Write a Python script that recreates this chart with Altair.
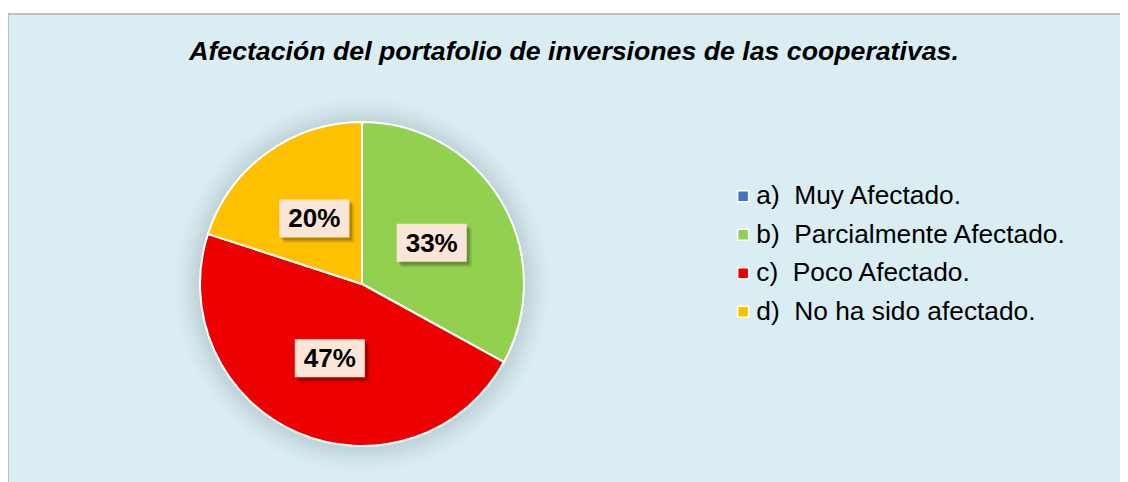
import altair as alt
import pandas as pd

categories = [
    "a)\u00a0\u00a0Muy Afectado.",
    "b)\u00a0\u00a0Parcialmente Afectado.",
    "c)\u00a0\u00a0Poco Afectado.",
    "d)\u00a0\u00a0No ha sido afectado.",
]
values = [0, 33, 47, 20]
colors = ["#4472C4", "#92D050", "#EC0000", "#FFC000"]
title_text = "Afectación del portafolio de inversiones de las cooperativas."

W, H = 1112, 468
CX, CY, R = 354, 270, 162
FONT = "Liberation Sans"

df = pd.DataFrame({"cat": categories, "value": values, "idx": list(range(len(values)))})

color = alt.Color(
    "cat:N",
    scale=alt.Scale(domain=categories, range=colors),
    sort=categories,
    legend=alt.Legend(
        orient="none",
        legendX=722,
        legendY=169,
        title=None,
        labelFont=FONT,
        labelFontSize=26.3,
        labelColor="#000000",
        labelLimit=600,
        symbolType="square",
        symbolSize=121,
        symbolStrokeColor="white",
        symbolStrokeWidth=1.5,
        symbolOpacity=1,
        rowPadding=11.5,
        labelOffset=0,
        padding=0,
    ),
)

one = pd.DataFrame({"g": [0]})

# soft glow behind the pie
glows = [
    alt.Chart(one)
    .mark_arc(outerRadius=r, theta=0, theta2=6.2832, fill="#5E8596", opacity=0.028)
    .encode(x=alt.value(CX), y=alt.value(CY + 1))
    for r in (186, 182, 179, 176, 173, 171, 169, 167, 165)
]

# panel border (left and top edges)
border_left = alt.Chart(one).mark_rule(color="#BFBFBF", strokeWidth=2).encode(
    x=alt.value(0), y=alt.value(0), y2=alt.value(H)
)
border_top = alt.Chart(one).mark_rule(color="#BFBFBF", strokeWidth=2).encode(
    x=alt.value(0), x2=alt.value(W), y=alt.value(0)
)

pie = (
    alt.Chart(df)
    .mark_arc(outerRadius=R, stroke="white", strokeWidth=2)
    .encode(
        theta=alt.Theta("value:Q", stack=True),
        color=color,
        order=alt.Order("idx:Q"),
        x=alt.value(CX),
        y=alt.value(CY),
    )
)

lab = (
    alt.Chart(df)
    .transform_joinaggregate(total="sum(value)")
    .transform_window(cum="sum(value)", sort=[alt.SortField("idx")], frame=[None, 0])
    .transform_calculate(
        mid="(datum.cum - datum.value / 2) / datum.total * 2 * PI",
        lx="0.5 * sin(datum.mid)",
        ly="-0.5 * cos(datum.mid)",
        label="format(datum.value / datum.total, '.0%')",
    )
    .transform_filter("datum.value > 0")
)

xs = alt.X("lx:Q", scale=alt.Scale(domain=[-1, 1], range=[CX - R, CX + R]), axis=None)
ys = alt.Y("ly:Q", scale=alt.Scale(domain=[-1, 1], range=[CY - R, CY + R]), axis=None)

box_path = "M-1,-0.543L1,-0.543L1,0.543L-1,0.543Z"
sh1_path = "M-0.92,-0.46L1.08,-0.46L1.08,0.63L-0.92,0.63Z"
sh2_path = "M-0.88,-0.40L1.14,-0.40L1.14,0.69L-0.88,0.69Z"

shadow1 = lab.mark_point(shape=sh2_path, size=4900, filled=True, fill="#000000", opacity=0.12, strokeWidth=0).encode(x=xs, y=ys)
shadow2 = lab.mark_point(shape=sh1_path, size=4900, filled=True, fill="#000000", opacity=0.2, strokeWidth=0).encode(x=xs, y=ys)
box = lab.mark_point(shape=box_path, size=4900, filled=True, fill="#FBE5D6", opacity=1, strokeWidth=0).encode(x=xs, y=ys)
txt = lab.mark_text(font=FONT, fontSize=26, fontWeight="bold", color="#000000", baseline="middle", align="center", dy=1).encode(
    x=xs, y=ys, text="label:N"
)

chart = (
    alt.layer(*glows, border_left, border_top, pie, shadow1, shadow2, box, txt)
    .properties(
        width=W,
        height=H,
        padding={"left": 0, "top": 6, "right": 0, "bottom": 0},
        autosize=alt.AutoSizeParams(type="none"),
        background="#FFFFFF",
        title=alt.TitleParams(
            title_text,
            font=FONT,
            fontSize=26.7,
            fontWeight="bold",
            fontStyle="italic",
            color="#000000",
            anchor="middle",
            offset=-53,
            dx=10,
        ),
    )
    .configure_view(fill="#DAEDF3", stroke=None)
)

chart.save("out.html", embed_options={"renderer": "svg", "actions": False})
